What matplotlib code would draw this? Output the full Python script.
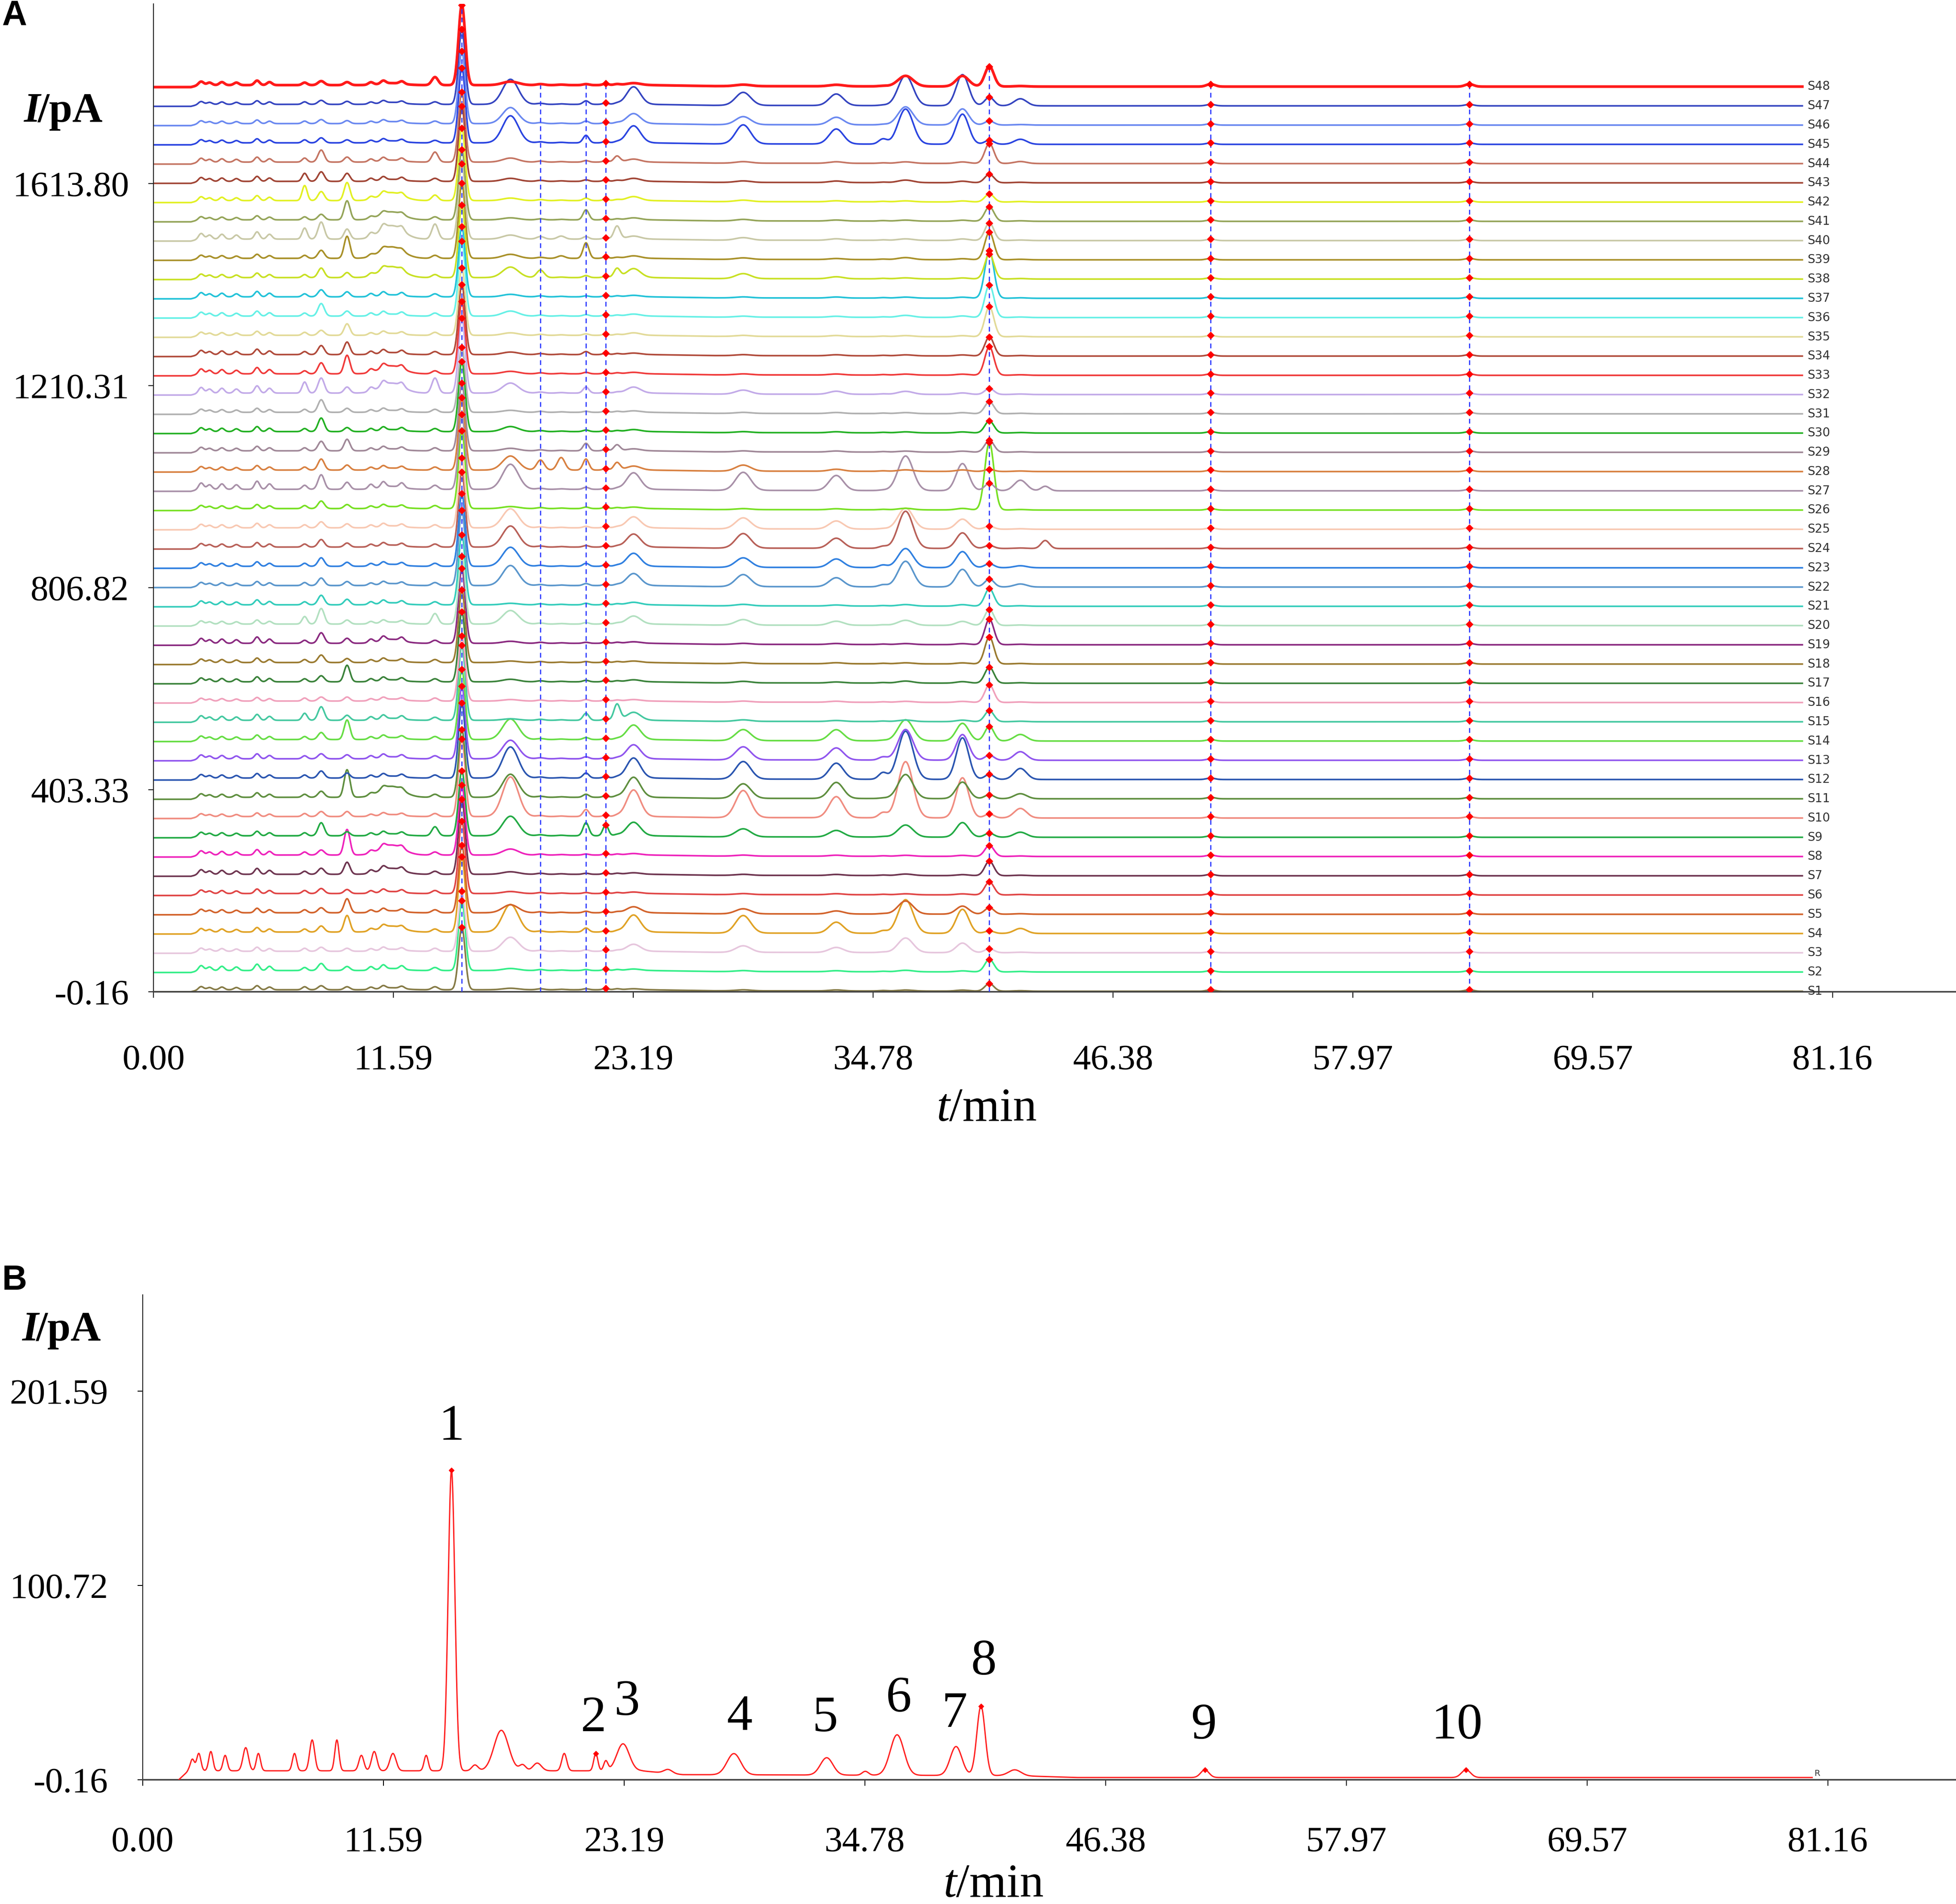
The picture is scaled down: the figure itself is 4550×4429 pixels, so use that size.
import numpy as np
import matplotlib
matplotlib.use('Agg')
import matplotlib.pyplot as plt

# GC fingerprints of 48 samples (A) and the reference chromatogram (B)

W, H = 4550, 4429
SERIF = 'Liberation Serif'

# ---------------- panel A data (lists ordered S1 .. S48) ----------------
sample_names = ['S%d' % (i + 1) for i in range(48)]
sample_colors = ['#857a45', '#33ee88', '#e6c6dd', '#e0a225', '#d2622a', '#e04444', '#6e3550', '#ee22bb',
                 '#22aa44', '#f08c80', '#5e8e3e', '#2a55b0', '#9055ee', '#66dd44', '#44c8a0', '#f0a0bb',
                 '#3a823a', '#9a7a30', '#8a2a80', '#b2e0c0', '#33ccbb', '#5a96cc', '#3080e0', '#b86058',
                 '#f8c8b2', '#77e022', '#a890a8', '#d88040', '#a08898', '#22b022', '#b0b0b0', '#c2aae8',
                 '#f03a3a', '#b04a3a', '#e2da98', '#66f0e6', '#22c2d8', '#c8e022', '#a89028', '#c8c8a6',
                 '#94a458', '#e2f022', '#a04434', '#c47462', '#2a44e0', '#6a88f0', '#3444c0', '#ff1a1a']
offset_step = 38.43

# small early peaks shared by all samples, scaled per sample
early_times = [2.3, 2.7, 3.3, 4.0, 5.0, 5.6, 10.5, 11.1, 12.0]
early_profile = [7, 5, 6, 5, 9, 6, 5, 6, 5]
early_scale = [0.9, 1.4, 0.9, 1.0, 1.0, 1.0, 1.3, 1.2, 1.0, 0.8, 1.0, 1.0, 1.1, 1.0, 1.3, 0.8,
               1.1, 1.0, 1.4, 0.9, 1.1, 0.9, 1.0, 1.0, 1.0, 0.9, 1.8, 1.0, 1.0, 1.1, 0.9, 1.6,
               1.4, 1.2, 0.9, 1.1, 1.2, 1.0, 0.9, 1.6, 0.9, 1.1, 1.1, 1.1, 0.9, 0.8, 0.8, 1.0]

# peak heights above baseline (pA) per sample
h73 = [6, 6, 6, 6, 6, 6, 6, 6, 6, 6, 6, 6, 6, 6, 14, 6, 6, 6, 6, 15, 6, 6, 6, 6,
       6, 6, 8, 6, 6, 6, 6, 22, 6, 6, 6, 6, 6, 6, 6, 22, 6, 30, 16, 8, 6, 5, 5, 5]
h81 = [8, 14, 8, 12, 10, 10, 12, 10, 26, 10, 12, 14, 10, 14, 27, 8, 12, 15, 21, 31, 19, 15, 17, 15,
       12, 15, 29, 22, 19, 27, 25, 30, 22, 18, 10, 25, 14, 19, 16, 34, 11, 18, 19, 24, 10, 8, 8, 8]
h935 = [6, 8, 6, 33, 28, 8, 24, 51, 8, 10, 55, 10, 8, 39, 10, 8, 33, 8, 10, 8, 11, 8, 8, 8,
        8, 8, 14, 10, 23, 8, 8, 12, 37, 25, 23, 10, 10, 10, 44, 20, 38, 36, 16, 10, 6, 6, 6, 6]
h115 = [4, 4, 4, 12, 4, 4, 12, 20, 4, 4, 22, 4, 4, 4, 4, 4, 4, 4, 8, 4, 4, 4, 4, 4,
        4, 4, 6, 4, 4, 4, 4, 20, 16, 4, 4, 4, 4, 22, 23, 27, 16, 16, 4, 4, 4, 4, 4, 4]
h136 = [6, 6, 6, 6, 6, 6, 6, 6, 18, 6, 6, 6, 6, 6, 6, 6, 6, 6, 6, 21, 6, 6, 6, 6,
        6, 6, 8, 6, 6, 6, 6, 30, 6, 6, 6, 6, 6, 6, 6, 30, 6, 11, 6, 20, 5, 5, 5, 16]
p1 = [125, 140, 120, 150, 135, 145, 150, 140, 130, 155, 135, 150, 145, 140, 150, 130,
      140, 145, 150, 135, 140, 150, 145, 150, 140, 155, 150, 145, 135, 140, 130, 150,
      145, 140, 135, 150, 140, 145, 150, 150, 140, 145, 150, 140, 150, 145, 150, 160]
h172 = [3, 4, 28, 55, 16, 4, 5, 12, 39, 79, 46, 62, 37, 41, 3, 3, 5, 3, 4, 27, 3, 40, 38, 42,
        38, 4, 50, 28, 5, 10, 4, 20, 5, 5, 5, 10, 5, 21, 8, 8, 4, 5, 6, 8, 54, 32, 50, 7]
h187 = [2, 2, 2, 2, 2, 2, 2, 2, 2, 2, 2, 2, 2, 2, 2, 2, 2, 2, 2, 2, 2, 2, 2, 2,
        2, 2, 2, 20, 2, 2, 2, 2, 2, 2, 2, 2, 2, 15, 2, 5, 2, 2, 2, 2, 2, 2, 2, 2]
h197 = [1, 1, 1, 1, 1, 1, 1, 1, 1, 1, 1, 1, 1, 1, 1, 1, 1, 1, 1, 1, 1, 1, 1, 1,
        1, 1, 1, 25, 1, 1, 1, 1, 1, 1, 1, 1, 1, 1, 5, 6, 1, 1, 1, 1, 1, 1, 1, 1]
h209 = [2, 2, 3, 8, 3, 2, 2, 2, 26, 14, 6, 10, 4, 4, 14, 3, 3, 2, 2, 3, 3, 4, 6, 3,
        3, 3, 4, 22, 15, 3, 2, 12, 3, 6, 3, 3, 2, 4, 31, 5, 20, 5, 3, 3, 15, 5, 7, 2]
h2 = [3, 3, 3, 3, 3, 3, 3, 3, 22, 3, 3, 3, 3, 3, 3, 3, 3, 3, 3, 3, 3, 3, 3, 3,
      3, 3, 3, 3, 3, 3, 3, 3, 3, 3, 3, 3, 3, 3, 3, 3, 3, 3, 3, 3, 3, 3, 3, 3]
h224 = [2, 2, 2, 2, 2, 2, 2, 2, 2, 2, 2, 2, 2, 2, 32, 2, 2, 2, 2, 2, 2, 2, 2, 2,
        2, 2, 2, 15, 12, 2, 2, 2, 2, 2, 2, 2, 2, 18, 2, 26, 2, 2, 2, 12, 2, 2, 2, 2]
h3 = [2, 3, 14, 34, 12, 3, 3, 3, 27, 53, 40, 40, 28, 29, 16, 3, 4, 3, 3, 16, 5, 24, 26, 26,
      22, 3, 33, 8, 4, 4, 3, 12, 3, 3, 5, 4, 3, 18, 5, 6, 4, 8, 6, 6, 34, 20, 35, 4]
h4 = [2, 2, 13, 35, 10, 2, 2, 2, 16, 54, 29, 35, 26, 22, 3, 2, 3, 2, 2, 11, 3, 24, 19, 29,
      22, 2, 36, 12, 2, 2, 2, 8, 2, 2, 2, 2, 2, 10, 3, 5, 3, 3, 3, 3, 38, 16, 26, 3]
h5 = [2, 2, 10, 22, 6, 2, 2, 2, 13, 42, 32, 32, 24, 22, 2, 2, 2, 2, 2, 8, 2, 18, 17, 20,
      16, 2, 30, 4, 2, 2, 2, 6, 2, 2, 2, 2, 2, 4, 2, 3, 2, 2, 3, 3, 30, 15, 23, 3]
h352 = [1, 1, 1, 5, 1, 1, 1, 1, 1, 10, 1, 13, 6, 1, 1, 1, 1, 1, 1, 1, 1, 4, 5, 4,
        1, 1, 1, 1, 1, 1, 1, 1, 1, 1, 1, 1, 1, 1, 1, 1, 1, 1, 1, 1, 10, 1, 1, 1]
h6 = [2, 3, 29, 67, 26, 2, 3, 2, 24, 112, 48, 96, 61, 42, 3, 2, 4, 2, 2, 10, 3, 51, 38, 74,
      42, 3, 69, 3, 2, 2, 2, 6, 2, 2, 2, 4, 2, 2, 4, 3, 2, 2, 5, 3, 70, 36, 60, 21]
h7 = [2, 2, 19, 48, 16, 2, 2, 2, 29, 80, 33, 83, 51, 35, 3, 2, 3, 2, 2, 8, 3, 35, 32, 31,
      20, 3, 54, 3, 2, 2, 2, 3, 2, 2, 2, 3, 2, 2, 2, 3, 2, 2, 3, 3, 60, 32, 62, 21]
h8 = [15, 25, 8, 5, 13, 26, 29, 22, 8, 8, 8, 10, 10, 29, 22, 35, 32, 54, 51, 32, 35, 16, 8, 6,
      6, 135, 15, 4, 24, 24, 24, 12, 57, 38, 60, 65, 95, 50, 55, 35, 29, 16, 17, 40, 8, 8, 17, 40]
h419 = [1, 1, 1, 10, 1, 1, 1, 1, 10, 19, 10, 22, 17, 13, 1, 1, 1, 1, 1, 1, 1, 6, 4, 1,
        1, 1, 21, 1, 1, 1, 1, 1, 1, 1, 1, 1, 1, 1, 1, 1, 1, 1, 1, 4, 10, 1, 14, 1]
h431 = [0, 0, 0, 0, 0, 0, 0, 0, 0, 0, 0, 0, 0, 0, 0, 0, 0, 0, 0, 0, 0, 0, 0, 16,
        0, 0, 9, 0, 0, 0, 0, 0, 0, 0, 0, 0, 0, 0, 0, 0, 0, 0, 0, 0, 0, 0, 0, 0]
h9 = [3, 3, 3, 3, 3, 3, 3, 3, 3, 3, 3, 3, 3, 3, 3, 3, 3, 3, 3, 3, 3, 3, 3, 3,
      3, 3, 3, 3, 3, 3, 3, 3, 3, 3, 3, 3, 3, 3, 3, 3, 3, 3, 3, 3, 3, 3, 3, 5]
h10 = [3, 3, 3, 3, 3, 3, 3, 3, 3, 3, 3, 3, 3, 3, 3, 3, 3, 3, 3, 3, 3, 3, 3, 3,
       3, 3, 3, 3, 3, 3, 3, 3, 3, 3, 3, 3, 3, 3, 3, 3, 3, 3, 3, 3, 3, 3, 3, 5]

# retention time (min), peak width (min), heights
a_columns = [(7.3, 0.12, h73), (8.1, 0.15, h81), (9.35, 0.14, h935), (11.5, 0.55, h115),
             (13.6, 0.15, h136), (14.9, 0.16, p1), (17.25, 0.38, h172), (18.7, 0.18, h187),
             (19.7, 0.18, h197), (20.9, 0.14, h209), (21.85, 0.13, h2), (22.4, 0.15, h224),
             (23.2, 0.33, h3), (28.5, 0.36, h4), (33.0, 0.34, h5), (35.25, 0.2, h352),
             (36.35, 0.36, h6), (39.1, 0.3, h7), (40.4, 0.22, h8), (41.9, 0.3, h419),
             (43.1, 0.2, h431), (51.1, 0.2, h9), (63.6, 0.2, h10)]
a_base_t = [0, 1.8, 2.2, 24.0, 27.0, 44.0, 79.7]
a_base_v = [0, 0, 4, 4, 2, 1, 1]
a_marked = [14.9, 21.85, 40.4, 51.1, 63.6]
a_dashed = [14.9, 18.7, 20.9, 21.85, 40.4, 51.1, 63.6]

a_yticks = [-0.16, 403.33, 806.82, 1210.31, 1613.80]
x_ticks = [0.00, 11.59, 23.19, 34.78, 46.38, 57.97, 69.57, 81.16]

# ---------------- panel B data ----------------
b_times = [2.39, 2.70, 3.28, 3.97, 4.96, 5.57, 7.31, 8.16, 9.35, 10.53, 11.15, 12.05, 13.65,
           14.87, 16.0, 17.27, 18.3, 19.0, 20.3, 21.82, 22.3, 23.13, 25.3, 28.47, 32.94,
           34.8, 36.33, 39.17, 40.37, 42.0, 51.15, 63.73]
b_heights = [6, 9, 10, 8, 12, 9, 9, 16, 16, 8, 10, 9, 8,
             156, 3, 21, 3, 4, 9, 9, 5, 14, 2, 11, 9,
             2, 21, 15, 36, 3, 4, 4]
b_widths = [0.1, 0.1, 0.1, 0.1, 0.13, 0.1, 0.1, 0.12, 0.1, 0.12, 0.13, 0.15, 0.1,
            0.16, 0.15, 0.35, 0.15, 0.2, 0.12, 0.1, 0.1, 0.3, 0.2, 0.33, 0.3,
            0.15, 0.33, 0.28, 0.2, 0.3, 0.2, 0.22]
b_base_t = [1.75, 2.2, 24.0, 26.0, 42.0, 45.0, 80.4]
b_base_v = [0, 4.5, 4.5, 2.5, 2.0, 1.0, 1.0]
b_marked = [14.87, 21.82, 40.37, 51.15, 63.73]
b_labels = ['1', '2', '3', '4', '5', '6', '7', '8', '9', '10']
b_label_x = [14.87, 21.70, 23.33, 28.74, 32.86, 36.42, 39.09, 40.50, 51.1, 63.3]
b_label_y = [176.4, 25.1, 33.5, 25.7, 25.1, 35.3, 27.3, 54.5, 21.3, 21.3]
b_yticks = [-0.16, 100.72, 201.59]


def peak(t, tc, h, w):
    return h * np.exp(-0.5 * ((t - tc) / w) ** 2)


def fig_box(left, top, right, bottom):
    return [left / W, 1 - bottom / H, (right - left) / W, (bottom - top) / H]


def rich_text(fig, x, y, parts, size, center=False, squeeze=0.97):
    # parts: (text, style, weight); x, y in pixels from top-left, y is the baseline
    r = fig.canvas.get_renderer()
    items = []
    for s, style, weight in parts:
        txt = fig.text(0, 1 - y / H, s, fontsize=size, family=SERIF, fontstyle=style,
                       fontweight=weight, va='baseline', ha='left')
        items.append((txt, txt.get_window_extent(r).width))
    pos = x - sum(w for _, w in items) / 2 if center else x
    for txt, w in items:
        txt.set_x(pos / W)
        pos += w * squeeze


def style_axes(ax, yticks, xpad, ypad):
    for s in ['top', 'right']:
        ax.spines[s].set_visible(False)
    ax.spines['left'].set_linewidth(1.6)
    ax.spines['left'].set_color('#222222')
    ax.spines['bottom'].set_linewidth(2.6)
    ax.spines['bottom'].set_color('#444444')
    ax.set_xticks(x_ticks)
    ax.set_xticklabels(['%.2f' % v for v in x_ticks])
    ax.set_yticks(yticks)
    ax.set_yticklabels(['%.2f' % v for v in yticks])
    ax.tick_params(axis='x', direction='out', length=10, width=1.5, pad=xpad, labelsize=60)
    ax.tick_params(axis='y', direction='out', length=9, width=1.5, pad=ypad, labelsize=60)
    for lab in ax.get_xticklabels() + ax.get_yticklabels():
        lab.set_family(SERIF)


fig = plt.figure(figsize=(W / 100, H / 100), dpi=100)

# ---------------- panel A ----------------
axA = fig.add_axes(fig_box(357.4, 9, 4550, 2307))
t = np.linspace(0, 79.7, 8000)
apex = {}
for i in range(48):
    off = i * offset_step - 0.16
    y = np.interp(t, a_base_t, a_base_v) + off
    for tc, hv in zip(early_times, early_profile):
        y = y + peak(t, tc, hv * early_scale[i], 0.12)
    for tc, w, hs in a_columns:
        y = y + peak(t, tc, hs[i], w)
    lw = 4.5 if i == 47 else 2.7
    axA.plot(t, y, color=sample_colors[i], lw=lw, zorder=2 + i * 0.01, solid_joinstyle='round')
    mk = [np.interp(tc, t, y) for tc in a_marked]
    apex[i] = mk
    axA.plot(a_marked, mk, linestyle='none', marker='D', ms=8, color='#ff0000', zorder=4)
    axA.text(79.95, y[-1], sample_names[i], fontsize=20, family='DejaVu Sans', color='#333333',
             ha='left', va='center', clip_on=False)

top48 = 47 * offset_step
dash_tops = [apex[47][0], top48 + 4, top48 + 4, top48 + 6, apex[47][2], top48 + 10, top48 + 10]
for tc, ytop in zip(a_dashed, dash_tops):
    axA.plot([tc, tc], [-0.16, ytop], color='#2f3cff', lw=2.0, linestyle=(0, (4, 3)), zorder=3)

axA.set_xlim(0, (4550 - 357.4) / 557.9 * 11.594)
axA.set_ylim(-0.16, -0.16 + (2307 - 9) * 403.49 / 470.1)
style_axes(axA, a_yticks, 78, 32)

# ---------------- panel B ----------------
axB = fig.add_axes(fig_box(332, 3012, 4550, 4140))
tb = np.linspace(1.75, 80.4, 8000)
yb = np.interp(tb, b_base_t, b_base_v)
for tc, hv, w in zip(b_times, b_heights, b_widths):
    yb = yb + peak(tb, tc, hv, w)
axB.plot(tb, yb, color='#ff2020', lw=2.2, zorder=3)
axB.plot(b_marked, [np.interp(tc, tb, yb) for tc in b_marked], linestyle='none',
         marker='D', ms=6, color='#ff0000', zorder=4)
axB.text(80.5, yb[-1], 'R', fontsize=14, family='DejaVu Sans', color='#333333',
         ha='left', va='bottom')
for s, x, y in zip(b_labels, b_label_x, b_label_y):
    axB.text(x, y, s, fontsize=86, family=SERIF, ha='center', va='baseline')

axB.set_xlim(0, (4550 - 332) / 560 * 11.594)
axB.set_ylim(-0.16, -0.16 + (4140 - 3012) * 100.875 / 452)
style_axes(axB, b_yticks, 68, 49)

# ---------------- labels ----------------
fig.text(5 / W, 1 - 58 / H, 'A', fontsize=58, family='Liberation Sans', fontweight='bold',
         va='baseline')
fig.text(5 / W, 1 - 3000 / H, 'B', fontsize=58, family='Liberation Sans', fontweight='bold',
         va='baseline')
rich_text(fig, 56, 283, [('I', 'italic', 'bold'), ('/pA', 'normal', 'bold')], 70, squeeze=0.85)
rich_text(fig, 52, 3118, [('I', 'italic', 'bold'), ('/pA', 'normal', 'bold')], 70, squeeze=0.85)
rich_text(fig, 2295, 2607, [('t', 'italic', 'normal'), ('/min', 'normal', 'normal')], 80, center=True)
rich_text(fig, 2311, 4412, [('t', 'italic', 'normal'), ('/min', 'normal', 'normal')], 80, center=True)

fig.savefig('out.png', dpi=100)
